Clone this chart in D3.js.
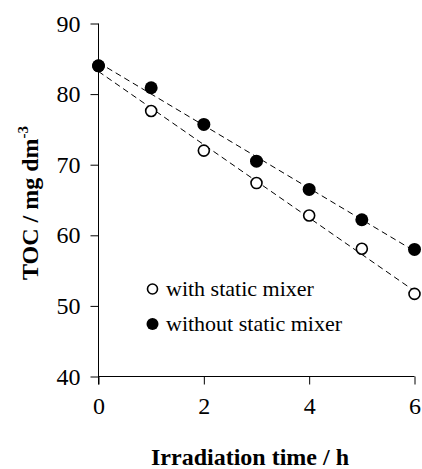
<!DOCTYPE html>
<html>
<head>
<meta charset="utf-8">
<script src="https://cdn.jsdelivr.net/npm/d3@7"></script>
<style>
  html, body { margin: 0; padding: 0; background: #fff; }
  svg { display: block; }
  text { font-family: "Liberation Serif", "Times New Roman", serif; fill: #000; }
</style>
</head>
<body>
<svg id="chart" width="422" height="469"></svg>
<script>
const times = [0, 1, 2, 3, 4, 5, 6];
const withMixer = [84.0, 77.6, 72.0, 67.4, 62.8, 58.1, 51.7];
const withoutMixer = [84.0, 80.9, 75.7, 70.5, 66.5, 62.2, 58.0];
const xTicks = [0, 2, 4, 6];
const yTicks = [40, 50, 60, 70, 80, 90];
const legendLabels = ["with static mixer", "without static mixer"];

const svg = d3.select("#chart");
const x = d3.scaleLinear().domain([0, 6]).range([98.5, 414.5]);
const y = d3.scaleLinear().domain([40, 90]).range([376.5, 23.5]);

// axes
svg.append("g").attr("transform", "translate(0,376.5)")
  .call(d3.axisBottom(x).tickValues(xTicks).tickSize(8).tickPadding(12).tickFormat(d3.format("d")))
  .call(g => g.select(".domain").attr("d", `M${x.range()[0]},0H${x.range()[1]}`))
  .call(g => g.selectAll("text").attr("font-size", 24).attr("font-family", "Liberation Serif"));
svg.append("g").attr("transform", "translate(98.5,0)")
  .call(d3.axisLeft(y).tickValues(yTicks).tickSize(8).tickPadding(10).tickFormat(d3.format("d")))
  .call(g => g.select(".domain").attr("d", `M0,${y.range()[0] + 8}V${y.range()[1]}`))
  .call(g => g.selectAll("text").attr("font-size", 24).attr("font-family", "Liberation Serif"));

// regression lines
function fit(xs, ys) {
  const mx = d3.mean(xs), my = d3.mean(ys);
  let sxy = 0, sxx = 0;
  xs.forEach((v, i) => { sxy += (v - mx) * (ys[i] - my); sxx += (v - mx) ** 2; });
  const b = sxy / sxx; return [my - b * mx, b];
}
[withMixer, withoutMixer].forEach(s => {
  const [a, b] = fit(times, s);
  svg.append("line")
    .attr("x1", x(0)).attr("y1", y(a))
    .attr("x2", x(6)).attr("y2", y(a + b * 6))
    .attr("stroke", "#000").attr("stroke-width", 1).attr("stroke-dasharray", "6,4");
});

// points
svg.append("g").selectAll("circle").data(times).join("circle")
  .attr("cx", d => x(d)).attr("cy", (d, i) => y(withMixer[i])).attr("r", 5.5)
  .attr("fill", "#fff").attr("stroke", "#000").attr("stroke-width", 1.6);
svg.append("g").selectAll("circle").data(times).join("circle")
  .attr("cx", d => x(d)).attr("cy", (d, i) => y(withoutMixer[i])).attr("r", 6.5)
  .attr("fill", "#000");

// legend
const lg = svg.append("g");
legendLabels.forEach((lab, i) => {
  const cy = 289 + i * 35;
  lg.append("circle").attr("cx", 152.5).attr("cy", cy).attr("r", i === 0 ? 5 : 6)
    .attr("fill", i === 0 ? "#fff" : "#000").attr("stroke", "#000").attr("stroke-width", i === 0 ? 1.6 : 0);
  lg.append("text").attr("x", 166).attr("y", cy + 7).attr("font-size", 22).text(lab);
});

// axis titles
svg.append("text").attr("x", 250).attr("y", 465).attr("text-anchor", "middle")
  .attr("font-size", 24).attr("font-weight", "bold").text("Irradiation time / h");
const yt = svg.append("text").attr("transform", "translate(38,203) rotate(-90)")
  .attr("text-anchor", "middle").attr("font-size", 24).attr("font-weight", "bold");
yt.append("tspan").text("TOC / mg dm");
yt.append("tspan").attr("dy", -10).attr("font-size", 15).text("-3");
</script>
</body>
</html>
